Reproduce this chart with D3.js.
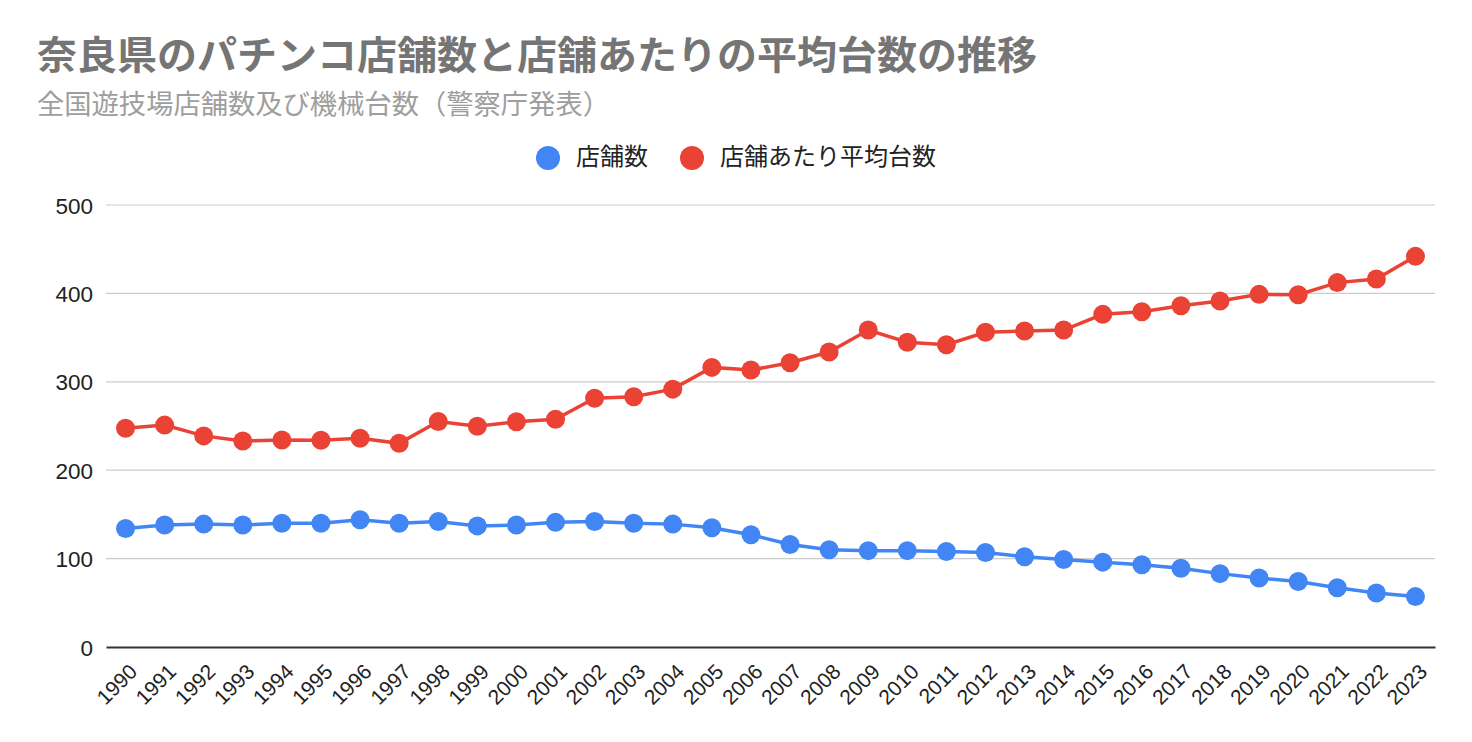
<!DOCTYPE html>
<html><head><meta charset="utf-8">
<script src="https://cdn.jsdelivr.net/npm/d3@7"></script>
<style>
html,body{margin:0;padding:0;background:#fff;}
svg{display:block;}
</style></head>
<body>
<svg id="chart" width="1472" height="742"></svg>
<script>
const years = ["1990","1991","1992","1993","1994","1995","1996","1997","1998","1999","2000","2001","2002","2003","2004","2005","2006","2007","2008","2009","2010","2011","2012","2013","2014","2015","2016","2017","2018","2019","2020","2021","2022","2023"];
const storeCounts = [134,138,139,138,140,140,144,140,142,137,138,141,142,140,139,135,127,116,110,109,109,108,107,102,99,96,93,89,83,78,74,67,61,57];
const avgMachines = [247.5,251,238.8,233,234.2,233.8,236.1,230.4,255.1,249.8,254.8,257.6,281.4,283,291.7,316.3,313.3,321.6,333.7,358.5,344.7,342,356,357.4,358.5,376.3,379.3,386,391.5,398.9,398.5,412.2,416.3,441.9];
const yTicks = [0,100,200,300,400,500];
const seriesNames = ["店舗数","店舗あたり平均台数"];
const seriesColors = ["#4285F4","#EA4335"];
const titleText = "奈良県のパチンコ店舗数と店舗あたりの平均台数の推移";
const subtitleText = "全国遊技場店舗数及び機械台数（警察庁発表）";

(function(){
const svg = d3.select("#chart");
const cjk = "'Noto Sans CJK JP','Noto Sans',sans-serif";
const lat = "Arial,'Liberation Sans',sans-serif";
const pLeft = 106, pRight = 1435, pTop = 205, pBottom = 647;

const x = d3.scaleBand().domain(years).range([pLeft, pRight]).paddingInner(0).paddingOuter(0);
const y = d3.scaleLinear().domain([0,500]).range([pBottom, pTop]);

svg.append("text").attr("x",37).attr("y",69).attr("font-family",cjk).attr("font-weight","bold")
  .attr("font-size",39).attr("fill","#757575")
  .attr("textLength",1000).attr("lengthAdjust","spacingAndGlyphs").text(titleText);
svg.append("text").attr("x",37).attr("y",114).attr("font-family",cjk)
  .attr("font-size",27).attr("fill","#9e9e9e")
  .attr("textLength",573).attr("lengthAdjust","spacingAndGlyphs").text(subtitleText);

const legendItems = [{name:seriesNames[0],color:seriesColors[0],cx:548,tx:576},{name:seriesNames[1],color:seriesColors[1],cx:692,tx:720}];
legendItems.forEach(d=>{
  svg.append("circle").attr("cx",d.cx).attr("cy",158).attr("r",12).attr("fill",d.color);
  svg.append("text").attr("x",d.tx).attr("y",165).attr("font-family",cjk).attr("font-size",24).attr("fill","#222").text(d.name);
});

const grid = svg.append("g");
grid.selectAll("line").data(yTicks.filter(t=>t>0)).join("line")
  .attr("x1",pLeft).attr("x2",pRight).attr("y1",d=>y(d)).attr("y2",d=>y(d))
  .attr("stroke","#cccccc").attr("stroke-width",1.2);

const yAxis = d3.axisLeft(y).tickValues(yTicks).tickSize(0).tickPadding(13);
const yg = svg.append("g").attr("transform",`translate(${pLeft},0)`).call(yAxis);
yg.select(".domain").remove();
yg.selectAll("text").attr("font-family",lat).attr("font-size",22.5).attr("fill","#222").attr("dy","0.36em");

const xAxis = d3.axisBottom(x).tickSize(0).tickPadding(0);
const xg = svg.append("g").attr("transform",`translate(0,${pBottom})`).call(xAxis);
xg.select(".domain").attr("stroke","#333").attr("stroke-width",2.2);
xg.selectAll("text").attr("font-family",lat).attr("font-size",21).attr("fill","#222")
  .attr("text-anchor","end").attr("dy",0)
  .attr("transform","translate(13,26) rotate(-45)");

const cx = d => x(d) + x.bandwidth()/2;
[storeCounts, avgMachines].forEach((vals,i)=>{
  const data = years.map((yr,j)=>({yr, v: vals[j]}));
  svg.append("path").datum(data)
    .attr("fill","none").attr("stroke",seriesColors[i]).attr("stroke-width",3.5)
    .attr("d", d3.line().x(d=>cx(d.yr)).y(d=>y(d.v)));
  svg.append("g").selectAll("circle").data(data).join("circle")
    .attr("cx",d=>cx(d.yr)).attr("cy",d=>y(d.v)).attr("r",9.5).attr("fill",seriesColors[i]);
});
})();
</script>
</body></html>
